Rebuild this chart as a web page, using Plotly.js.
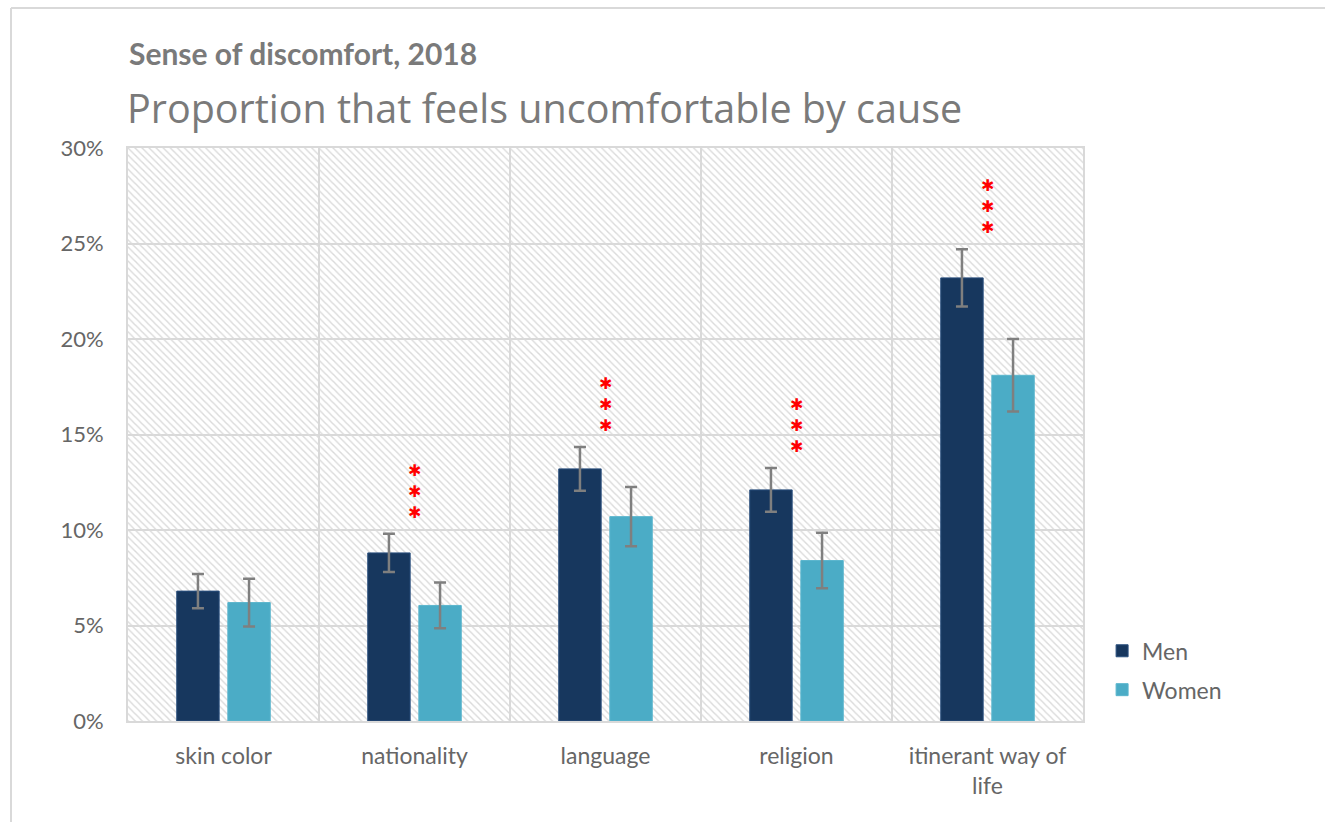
<!DOCTYPE html>
<html>
<head>
<meta charset="utf-8">
<script src="https://cdn.plot.ly/plotly-3.0.1.min.js"></script>
<style>
  html, body { margin: 0; padding: 0; background: #ffffff; }
  #chart { width: 1325px; height: 822px; }
</style>
</head>
<body>
<div id="chart"></div>
<script>
// ---- data ----
const categories = ['skin color', 'nationality', 'language', 'religion', 'itinerant way of life'];
const tickLabels = ['skin color', 'nationality', 'language', 'religion', 'itinerant way of<br>life'];
const menValues = [6.8, 8.8, 13.2, 12.1, 23.2];
const menErrors = [0.9, 1.0, 1.15, 1.15, 1.5];
const womenValues = [6.2, 6.05, 10.7, 8.4, 18.1];
const womenErrors = [1.25, 1.2, 1.55, 1.45, 1.9];
const significance = ['', '***', '***', '***', '***'];
const yTickValues = [0, 5, 10, 15, 20, 25, 30];
const yTickLabels = ['0%', '5%', '10%', '15%', '20%', '25%', '30%'];
const yMax = 30;
const titleText = 'Sense of discomfort, 2018';
const subtitleText = 'Proportion that feels uncomfortable by cause';

const FONT = 'Lato, Open Sans, sans-serif';
const GRID = '#d9d9d9';

// hatched plot background (drawn through a full-width patterned bar)
const background = {
  type: 'bar', x: [0.5], y: [yMax], width: [1],
  xaxis: 'x', yaxis: 'y',
  marker: {
    color: 'rgba(0,0,0,0)',
    line: { width: 0 },
    pattern: { shape: '\\', fgcolor: '#dadada', bgcolor: 'rgba(0,0,0,0)', size: 5, solidity: 0.28 }
  },
  hoverinfo: 'skip', showlegend: false
};

const errStyle = { type: 'data', visible: true, color: '#7f7f7f', thickness: 2.5, width: 6 };

const men = {
  type: 'bar', name: 'Men', x: categories, y: menValues,
  xaxis: 'x2', yaxis: 'y', legendgroup: 'men',
  marker: { color: '#17375e', line: { color: '#2a4f7e', width: 1 } },
  error_y: Object.assign({ array: menErrors }, errStyle)
};
const women = {
  type: 'bar', name: 'Women', x: categories, y: womenValues,
  xaxis: 'x2', yaxis: 'y', legendgroup: 'women',
  marker: { color: '#4bacc6', line: { color: '#5ab5cd', width: 1 } },
  error_y: Object.assign({ array: womenErrors }, errStyle)
};

// significance stars above the men bars (one stacked text per category)
const annotations = [];
categories.forEach((c, i) => {
  const stars = significance[i].split('');
  if (!stars.length) return;
  annotations.push({
    xref: 'x2', yref: 'y', x: c, y: menValues[i] + menErrors[i],
    text: stars.map(() => '\u2731').join('<br>'),
    showarrow: false, xanchor: 'center', yanchor: 'bottom', yshift: 10,
    font: { family: 'DejaVu Sans', size: 16, color: '#ff0000' }
  });
});

// title and subtitle
annotations.push({
  xref: 'paper', yref: 'paper', x: 0, y: 1.2015, xanchor: 'left', yanchor: 'top', xshift: -1,
  text: '<b>' + titleText + '</b>', showarrow: false,
  font: { family: FONT, size: 30, color: '#7a7a7a' }
});
annotations.push({
  xref: 'paper', yref: 'paper', x: 0, y: 1.1204, xanchor: 'left', yanchor: 'top', xshift: -3,
  text: subtitleText, showarrow: false,
  font: { family: 'Open Sans', size: 39.5, color: '#7a7a7a' }
});

const layout = {
  width: 1325, height: 822,
  margin: { l: 128, r: 242, t: 148, b: 101 },
  paper_bgcolor: '#ffffff', plot_bgcolor: '#ffffff',
  font: { family: FONT, color: '#6b6b6b', size: 18 },
  barmode: 'group', bargap: 0.465, bargroupgap: 0.17,
  xaxis: { range: [0, 1], visible: false, fixedrange: true },
  xaxis2: {
    overlaying: 'x', anchor: 'y', type: 'category',
    tickvals: categories, ticktext: tickLabels,
    tickson: 'boundaries', ticks: '', showgrid: true, gridcolor: GRID, gridwidth: 2,
    showline: true, linecolor: GRID, linewidth: 2, mirror: true,
    ticklabelstandoff: 13,
    tickfont: { family: FONT, size: 23, color: '#666666' }
  },
  yaxis: {
    range: [0, yMax], tickvals: yTickValues, ticktext: yTickLabels,
    showgrid: true, gridcolor: GRID, gridwidth: 2,
    showline: true, linecolor: GRID, linewidth: 2, mirror: true,
    zeroline: false, ticks: '', ticklabelstandoff: 18,
    tickfont: { family: FONT, size: 22, color: '#666666' }
  },
  showlegend: true,
  legend: {
    x: 1.020, xanchor: 'left', y: 0.160, yanchor: 'top',
    font: { family: FONT, size: 23, color: '#666666' },
    tracegroupgap: 6, bgcolor: 'rgba(0,0,0,0)'
  },
  annotations: annotations,
  shapes: [
    { type: 'line', xref: 'paper', yref: 'paper', x0: -0.1225, x1: 1.3, y0: 1.2443, y1: 1.2443, line: { color: GRID, width: 2 } },
    { type: 'line', xref: 'paper', yref: 'paper', x0: -0.1225, x1: -0.1225, y0: 1.2443, y1: -0.3, line: { color: GRID, width: 2 } }
  ]
};

Plotly.newPlot('chart', [background, men, women], layout, { staticPlot: true, displayModeBar: false });
</script>
</body>
</html>
